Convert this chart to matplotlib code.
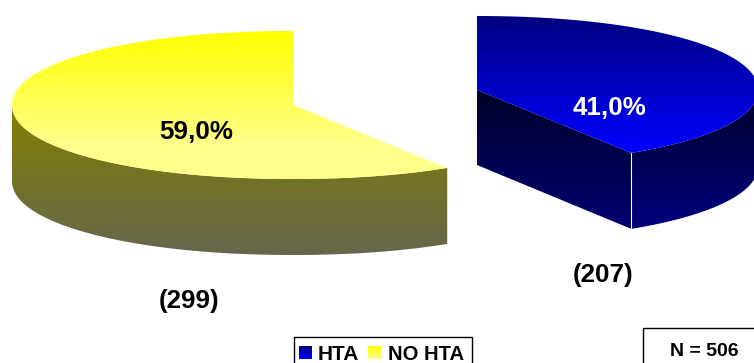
import numpy as np
import matplotlib
matplotlib.use("Agg")
import matplotlib.pyplot as plt
from matplotlib.patches import Polygon, Rectangle

categories = ["HTA", "NO HTA"]
shares = [41.0, 59.0]
counts = [207, 299]
share_labels = ["41,0%", "59,0%"]
total_label = "N = 506"

plt.rcParams["font.family"] = ["Liberation Sans", "DejaVu Sans"]

W, H = 754, 363
RX, RY = 281, 74
DEPTH = 76
ROUND = 2 / 2.08  # rim is slightly fuller than a true ellipse


def rim(cx, cy, deg):
    t = np.radians(deg)
    c, s = np.cos(t), np.sin(t)
    x = np.sign(c) * np.abs(c) ** ROUND
    y = np.sign(s) * np.abs(s) ** ROUND
    return np.column_stack([cx + RX * x, cy - RY * y])


def gradient(ax, pts, top, bottom, y0, y1, stop=None):
    # vertical colour ramp clipped to a polygon, flat below stop
    stop = y1 if stop is None else stop
    ys = np.linspace(y0, y1, 256)
    f = np.clip((ys - y0) / (stop - y0), 0, 1)[:, None]
    img = (np.array(top) * (1 - f) + np.array(bottom) * f) / 255
    img = img[:, None, :]
    left, right = pts[:, 0].min(), pts[:, 0].max()
    im = ax.imshow(img, extent=(left, right, y1, y0), aspect="auto", zorder=2, interpolation="bilinear")
    clip = Polygon(pts, closed=True, transform=ax.transData, facecolor="none", edgecolor="none")
    ax.add_patch(clip)
    im.set_clip_path(clip)


fig = plt.figure(figsize=(W / 100, H / 100), dpi=100)
ax = fig.add_axes([0, 0, 1, 1])

# yellow slice, runs counter-clockwise from twelve o'clock
cx, cy = 293, 105
sweep = shares[1] * 3.6
a = np.linspace(90, 90 + sweep, 200)
arc = rim(cx, cy, a)
low = a[a >= 180]
front = rim(cx, cy, low)
band = np.vstack([front, front[::-1] + [0, DEPTH]])
gradient(ax, band, (128, 128, 0), (102, 102, 77), cy, cy + RY + DEPTH)
top = np.vstack([[cx, cy], arc])
gradient(ax, top, (255, 255, 0), (255, 255, 140), cy - RY, cy + RY, stop=cy + 40)

# blue slice, runs clockwise from twelve o'clock
cx, cy = 477, 90
sweep = shares[0] * 3.6
a = np.linspace(90, 90 - sweep, 200)
arc = rim(cx, cy, a)
tip = arc[-1]
low = a[a <= 0]
front = rim(cx, cy, low)
band = np.vstack([front, front[::-1] + [0, DEPTH]])
gradient(ax, band, (0, 0, 40), (0, 0, 128), cy, tip[1] + DEPTH)
cut = np.array([[cx, cy], tip, tip + [0, DEPTH], [cx, cy + DEPTH - 1]])
gradient(ax, cut, (0, 0, 40), (0, 0, 115), cy, tip[1] + DEPTH)
top = np.vstack([[cx, cy], arc])
gradient(ax, top, (0, 0, 128), (0, 0, 255), cy - RY, tip[1])
ax.plot([tip[0], tip[0]], [tip[1], tip[1] + DEPTH], color="white", lw=0.8, zorder=3)

ax.text(196.5, 132, share_labels[1], fontsize=18.7, fontweight="bold", color="black", ha="center", va="center", zorder=4)
ax.text(609.5, 108, share_labels[0], fontsize=18.7, fontweight="bold", color="white", ha="center", va="center", zorder=4)
ax.text(189.5, 301, f"({counts[1]})", fontsize=18.7, fontweight="bold", ha="center", va="center")
ax.text(603, 275, f"({counts[0]})", fontsize=18.7, fontweight="bold", ha="center", va="center")

# legend box runs off the bottom edge
ax.add_patch(Rectangle((293.5, 336.5), 178, 40, facecolor="white", edgecolor="black", lw=1, zorder=1))
swatch = lambda x: np.array([[x, 346], [x + 13, 346], [x + 13, 359], [x, 359]])
gradient(ax, swatch(299), (0, 0, 128), (0, 0, 255), 346, 359)
gradient(ax, swatch(368), (255, 255, 0), (255, 255, 140), 346, 359)
ax.text(318, 354, categories[0], fontsize=15, fontweight="bold", ha="left", va="center", zorder=4)
ax.text(388, 354, categories[1], fontsize=14.6, fontweight="bold", ha="left", va="center", zorder=4)

ax.add_patch(Rectangle((642.5, 327.5), 130, 60, facecolor="white", edgecolor="black", lw=1, zorder=1))
ax.text(704.5, 352, total_label, fontsize=14, fontweight="bold", ha="center", va="center", zorder=4)

ax.set_xlim(0, W)
ax.set_ylim(H, 0)
ax.axis("off")
fig.savefig("out.png", dpi=100)
